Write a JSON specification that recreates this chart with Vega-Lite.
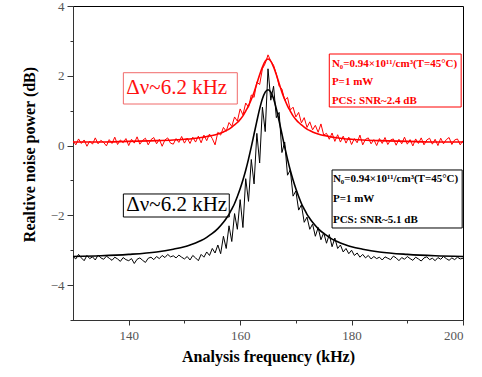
{
  "$schema": "https://vega.github.io/schema/vega-lite/v6.json",
  "width": 390,
  "height": 314,
  "autosize": {"type": "none"},
  "padding": {"left": 73, "top": 6, "right": 19, "bottom": 57},
  "background": "white",
  "config": {"view": {"stroke": "#000", "strokeWidth": 1}},
  "resolve": {"axis": {"x": "independent", "y": "independent"}},
  "datasets": {
    "tr": [
      {"f":130,"r":0.14,"b":-3.18},{"f":130.5,"r":0.02,"b":-3.25},{"f":131,"r":0.19,"b":-3.12},{"f":131.5,"r":0.06,"b":-3.22},
      {"f":132,"r":0.16,"b":-3.30},{"f":132.5,"r":-0.02,"b":-3.15},{"f":133,"r":0.13,"b":-3.24},{"f":133.5,"r":0.04,"b":-3.19},
      {"f":134,"r":0.22,"b":-3.28},{"f":134.5,"r":0.05,"b":-3.14},{"f":135,"r":0.15,"b":-3.22},{"f":135.5,"r":0.09,"b":-3.26},
      {"f":136,"r":-0.01,"b":-3.17},{"f":136.5,"r":0.17,"b":-3.23},{"f":137,"r":0.06,"b":-3.29},{"f":137.5,"r":0.24,"b":-3.20},
      {"f":138,"r":0.03,"b":-3.25},{"f":138.5,"r":0.16,"b":-3.32},{"f":139,"r":0.08,"b":-3.21},{"f":139.5,"r":0.20,"b":-3.27},
      {"f":140,"r":0.00,"b":-3.30},{"f":140.5,"r":0.18,"b":-3.24},{"f":141,"r":0.07,"b":-3.38},{"f":141.5,"r":0.25,"b":-3.26},
      {"f":142,"r":0.04,"b":-3.22},{"f":142.5,"r":0.15,"b":-3.29},{"f":143,"r":0.21,"b":-3.35},{"f":143.5,"r":0.02,"b":-3.23},
      {"f":144,"r":0.17,"b":-3.20},{"f":144.5,"r":0.23,"b":-3.27},{"f":145,"r":0.05,"b":-3.18},{"f":145.5,"r":0.18,"b":-3.24},
      {"f":146,"r":-0.02,"b":-3.15},{"f":146.5,"r":0.16,"b":-3.21},{"f":147,"r":0.22,"b":-3.12},{"f":147.5,"r":0.07,"b":-3.19},
      {"f":148,"r":0.04,"b":-3.16},{"f":148.5,"r":0.20,"b":-3.22},{"f":149,"r":0.09,"b":-3.14},{"f":149.5,"r":0.26,"b":-3.20},
      {"f":150,"r":0.07,"b":-3.25},{"f":150.5,"r":0.21,"b":-3.18},{"f":151,"r":0.06,"b":-3.28},{"f":151.5,"r":0.24,"b":-3.15},
      {"f":152,"r":0.10,"b":-3.22},{"f":152.5,"r":0.27,"b":-3.30},{"f":153,"r":0.08,"b":-3.12},{"f":153.5,"r":0.30,"b":-3.20},
      {"f":154,"r":0.14,"b":-3.05},{"f":154.5,"r":0.33,"b":-3.15},{"f":155,"r":0.20,"b":-2.95},{"f":155.5,"r":0.02,"b":-3.08},
      {"f":156,"r":0.38,"b":-2.85},{"f":156.5,"r":0.30,"b":-3.10},{"f":157,"r":0.52,"b":-2.60},{"f":157.5,"r":0.41,"b":-2.95},
      {"f":158,"r":0.66,"b":-2.30},{"f":158.5,"r":0.55,"b":-2.75},{"f":159,"r":0.82,"b":-1.95},{"f":159.5,"r":0.70,"b":-2.40},
      {"f":160,"r":1.05,"b":-1.55},{"f":160.5,"r":0.88,"b":-2.35},{"f":161,"r":1.22,"b":-0.95},{"f":161.5,"r":1.10,"b":-1.60},
      {"f":162,"r":1.45,"b":-0.40},{"f":162.5,"r":1.38,"b":-1.10},{"f":163,"r":1.82,"b":0.35},{"f":163.5,"r":1.75,"b":-0.50},
      {"f":164,"r":2.20,"b":1.10},{"f":164.5,"r":2.35,"b":0.40},{"f":165,"r":2.60,"b":2.20},{"f":165.5,"r":2.42,"b":1.30},
      {"f":166,"r":2.30,"b":1.70},{"f":166.5,"r":2.05,"b":0.80},{"f":167,"r":1.70,"b":0.95},{"f":167.5,"r":1.62,"b":-0.20},
      {"f":168,"r":1.30,"b":0.10},{"f":168.5,"r":1.38,"b":-0.85},{"f":169,"r":1.02,"b":-0.70},{"f":169.5,"r":1.10,"b":-1.45},
      {"f":170,"r":0.82,"b":-1.30},{"f":170.5,"r":0.95,"b":-1.85},{"f":171,"r":0.65,"b":-1.70},{"f":171.5,"r":0.80,"b":-2.20},
      {"f":172,"r":0.52,"b":-2.05},{"f":172.5,"r":0.68,"b":-2.40},{"f":173,"r":0.45,"b":-2.25},{"f":173.5,"r":0.58,"b":-2.60},
      {"f":174,"r":0.38,"b":-2.35},{"f":174.5,"r":0.62,"b":-2.70},{"f":175,"r":0.30,"b":-2.50},{"f":175.5,"r":0.35,"b":-2.80},
      {"f":176,"r":0.18,"b":-2.55},{"f":176.5,"r":0.36,"b":-2.90},{"f":177,"r":0.12,"b":-2.65},{"f":177.5,"r":0.31,"b":-2.95},
      {"f":178,"r":0.10,"b":-2.85},{"f":178.5,"r":0.27,"b":-3.05},{"f":179,"r":0.07,"b":-2.95},{"f":179.5,"r":0.24,"b":-3.10},
      {"f":180,"r":0.03,"b":-3.00},{"f":180.5,"r":0.20,"b":-3.15},{"f":181,"r":0.08,"b":-3.08},{"f":181.5,"r":0.30,"b":-3.20},
      {"f":182,"r":0.02,"b":-3.12},{"f":182.5,"r":0.18,"b":-3.22},{"f":183,"r":0.22,"b":-3.15},{"f":183.5,"r":0.05,"b":-3.25},
      {"f":184,"r":0.17,"b":-3.18},{"f":184.5,"r":0.00,"b":-3.24},{"f":185,"r":0.20,"b":-3.20},{"f":185.5,"r":0.06,"b":-3.28},
      {"f":186,"r":0.23,"b":-3.19},{"f":186.5,"r":0.03,"b":-3.23},{"f":187,"r":0.16,"b":-3.27},{"f":187.5,"r":0.19,"b":-3.17},
      {"f":188,"r":0.01,"b":-3.22},{"f":188.5,"r":0.18,"b":-3.30},{"f":189,"r":0.05,"b":-3.21},{"f":189.5,"r":0.24,"b":-3.26},
      {"f":190,"r":0.04,"b":-3.18},{"f":190.5,"r":0.17,"b":-3.24},{"f":191,"r":-0.01,"b":-3.29},{"f":191.5,"r":0.19,"b":-3.20},
      {"f":192,"r":0.06,"b":-3.25},{"f":192.5,"r":0.22,"b":-3.31},{"f":193,"r":0.02,"b":-3.22},{"f":193.5,"r":0.16,"b":-3.19},
      {"f":194,"r":0.21,"b":-3.27},{"f":194.5,"r":0.04,"b":-3.23},{"f":195,"r":0.18,"b":-3.30},{"f":195.5,"r":0.00,"b":-3.21},
      {"f":196,"r":0.21,"b":-3.26},{"f":196.5,"r":0.05,"b":-3.18},{"f":197,"r":0.17,"b":-3.24},{"f":197.5,"r":0.23,"b":-3.29},
      {"f":198,"r":0.03,"b":-3.22},{"f":198.5,"r":0.16,"b":-3.27},{"f":199,"r":0.19,"b":-3.20},{"f":199.5,"r":0.02,"b":-3.25},
      {"f":200,"r":0.14,"b":-3.23}
    ],
    "fit": [
      {"f":130,"rf":0.10,"bf":-3.18},{"f":135,"rf":0.10,"bf":-3.16},{"f":140,"rf":0.12,"bf":-3.12},{"f":145,"rf":0.14,"bf":-3.05},
      {"f":148,"rf":0.16,"bf":-2.97},{"f":150,"rf":0.18,"bf":-2.90},{"f":151,"rf":0.19,"bf":-2.85},{"f":152,"rf":0.21,"bf":-2.79},
      {"f":153,"rf":0.23,"bf":-2.72},{"f":154,"rf":0.26,"bf":-2.63},{"f":155,"rf":0.29,"bf":-2.52},{"f":156,"rf":0.33,"bf":-2.38},
      {"f":157,"rf":0.39,"bf":-2.20},{"f":157.5,"rf":0.43,"bf":-2.09},{"f":158,"rf":0.47,"bf":-1.97},{"f":158.5,"rf":0.53,"bf":-1.82},
      {"f":159,"rf":0.59,"bf":-1.66},{"f":159.5,"rf":0.66,"bf":-1.46},{"f":160,"rf":0.75,"bf":-1.24},{"f":160.5,"rf":0.85,"bf":-0.99},
      {"f":161,"rf":0.99,"bf":-0.71},{"f":161.5,"rf":1.14,"bf":-0.39},{"f":162,"rf":1.32,"bf":-0.04},{"f":162.5,"rf":1.53,"bf":0.33},
      {"f":163,"rf":1.78,"bf":0.70},{"f":163.5,"rf":2.03,"bf":1.05},{"f":164,"rf":2.25,"bf":1.34},{"f":164.5,"rf":2.42,"bf":1.53},
      {"f":165,"rf":2.48,"bf":1.60},{"f":165.5,"rf":2.42,"bf":1.53},{"f":166,"rf":2.25,"bf":1.34},{"f":166.5,"rf":2.03,"bf":1.05},
      {"f":167,"rf":1.78,"bf":0.70},{"f":167.5,"rf":1.53,"bf":0.33},{"f":168,"rf":1.32,"bf":-0.04},{"f":168.5,"rf":1.14,"bf":-0.39},
      {"f":169,"rf":0.99,"bf":-0.71},{"f":169.5,"rf":0.85,"bf":-0.99},{"f":170,"rf":0.75,"bf":-1.24},{"f":170.5,"rf":0.66,"bf":-1.46},
      {"f":171,"rf":0.59,"bf":-1.66},{"f":171.5,"rf":0.53,"bf":-1.82},{"f":172,"rf":0.47,"bf":-1.97},{"f":172.5,"rf":0.43,"bf":-2.09},
      {"f":173,"rf":0.39,"bf":-2.20},{"f":174,"rf":0.33,"bf":-2.38},{"f":175,"rf":0.29,"bf":-2.52},{"f":176,"rf":0.26,"bf":-2.63},
      {"f":177,"rf":0.23,"bf":-2.72},{"f":178,"rf":0.21,"bf":-2.79},{"f":179,"rf":0.19,"bf":-2.85},{"f":180,"rf":0.18,"bf":-2.90},
      {"f":182,"rf":0.16,"bf":-2.97},{"f":185,"rf":0.14,"bf":-3.05},{"f":190,"rf":0.12,"bf":-3.12},{"f":195,"rf":0.10,"bf":-3.16},
      {"f":200,"rf":0.10,"bf":-3.18}
    ]
  },
  "layer": [
    {
      "data": {"name": "tr"},
      "transform": [{"fold": ["r", "b"], "as": ["s", "v"]}],
      "mark": {"type": "line", "strokeWidth": 1, "clip": true},
      "encoding": {
        "x": {
          "field": "f", "type": "quantitative",
          "scale": {"domain": [130, 200], "nice": false, "zero": false},
          "axis": {
            "title": "Analysis frequency (kHz)",
            "values": [140, 150, 160, 170, 180, 190, 200],
            "labelExpr": "datum.value % 20 === 0 ? datum.label : ''",
            "tickSize": {"condition": {"test": "datum.value % 20 === 0", "value": 5}, "value": 3},
            "grid": false,
            "domainColor": "#333", "tickColor": "#333",
            "labelFont": "Liberation Serif", "labelFontSize": 13, "labelColor": "#555", "labelPadding": 4,
            "titleFont": "Liberation Serif", "titleFontSize": 16, "titleFontWeight": "bold", "titleColor": "#000", "titlePadding": 6
          }
        },
        "y": {
          "field": "v", "type": "quantitative",
          "scale": {"domain": [-5, 4], "nice": false, "zero": false},
          "axis": {
            "title": "Realtive noise power (dB)",
            "values": [-5, -4, -3, -2, -1, 0, 1, 2, 3, 4],
            "labelExpr": "datum.value % 2 === 0 ? datum.label : ''",
            "tickSize": {"condition": {"test": "datum.value % 2 === 0", "value": 6}, "value": 3},
            "grid": false,
            "domainColor": "#333", "tickColor": "#333",
            "labelFont": "Liberation Serif", "labelFontSize": 13, "labelColor": "#555", "labelPadding": 3,
            "titleFont": "Liberation Serif", "titleFontSize": 16, "titleFontWeight": "bold", "titleColor": "#000", "titlePadding": 13,
            "titleY": 148
          }
        },
        "color": {"field": "s", "type": "nominal", "scale": {"domain": ["r", "b", "rf", "bf"], "range": ["#ff0000", "#000000", "#ff0000", "#000000"]}, "legend": null}
      }
    },
    {
      "data": {"name": "fit"},
      "transform": [{"fold": ["rf", "bf"], "as": ["s", "v"]}],
      "mark": {"type": "line", "strokeWidth": 1.6, "interpolate": "monotone", "clip": true},
      "encoding": {
        "x": {"field": "f", "type": "quantitative", "axis": null},
        "y": {"field": "v", "type": "quantitative", "axis": null},
        "color": {"field": "s", "type": "nominal", "legend": null}
      }
    },
    {
      "data": {"values": [{}]},
      "mark": {"type": "rect", "fill": null, "stroke": "#f06a6a", "strokeWidth": 1},
      "encoding": {"x": {"datum": 139.04, "axis": null}, "x2": {"datum": 159.49}, "y": {"datum": 2.088, "axis": null}, "y2": {"datum": 1.191}}
    },
    {
      "data": {"values": [{}]},
      "mark": {"type": "text", "font": "Liberation Serif", "fontSize": 21, "color": "#ff1010", "align": "center", "baseline": "middle"},
      "encoding": {"x": {"datum": 148.62, "axis": null}, "y": {"datum": 1.65, "axis": null}, "text": {"value": "Δν~6.2 kHz"}}
    },
    {
      "data": {"values": [{}]},
      "mark": {"type": "rect", "fill": null, "stroke": "#000000", "strokeWidth": 1},
      "encoding": {"x": {"datum": 139.04, "axis": null}, "x2": {"datum": 158.05}, "y": {"datum": -1.388, "axis": null}, "y2": {"datum": -2.048}}
    },
    {
      "data": {"values": [{}]},
      "mark": {"type": "text", "font": "Liberation Serif", "fontSize": 21, "color": "#000000", "align": "center", "baseline": "middle"},
      "encoding": {"x": {"datum": 148.62, "axis": null}, "y": {"datum": -1.718, "axis": null}, "text": {"value": "Δν~6.2 kHz"}}
    },
    {
      "data": {"values": [{}]},
      "mark": {"type": "rect", "fill": null, "stroke": "#ff0000", "strokeWidth": 1},
      "encoding": {"x": {"datum": 176.0, "axis": null}, "x2": {"datum": 199.67}, "y": {"datum": 2.624, "axis": null}, "y2": {"datum": 1.105}}
    },
    {
      "data": {"values": [{}]},
      "mark": {"type": "text", "font": "Liberation Serif", "fontSize": 11, "fontWeight": "bold", "color": "#ff0000", "align": "left", "baseline": "middle", "lineHeight": 18.5},
      "encoding": {"x": {"datum": 176.47, "axis": null}, "y": {"datum": 2.338, "axis": null}, "text": {"value": ["N₀=0.94×10¹¹/cm³(T=45°C)", "P=1 mW", "PCS: SNR~2.4 dB"]}}
    },
    {
      "data": {"values": [{}]},
      "mark": {"type": "rect", "fill": null, "stroke": "#000000", "strokeWidth": 1},
      "encoding": {"x": {"datum": 176.5, "axis": null}, "x2": {"datum": 199.85}, "y": {"datum": -0.7, "axis": null}, "y2": {"datum": -2.363}}
    },
    {
      "data": {"values": [{}]},
      "mark": {"type": "text", "font": "Liberation Serif", "fontSize": 11, "fontWeight": "bold", "color": "#000000", "align": "left", "baseline": "middle", "lineHeight": 20.5},
      "encoding": {"x": {"datum": 176.65, "axis": null}, "y": {"datum": -0.958, "axis": null}, "text": {"value": ["N₀=0.94×10¹¹/cm³(T=45°C)", "P=1 mW", "PCS: SNR~5.1 dB"]}}
    }
  ]
}
